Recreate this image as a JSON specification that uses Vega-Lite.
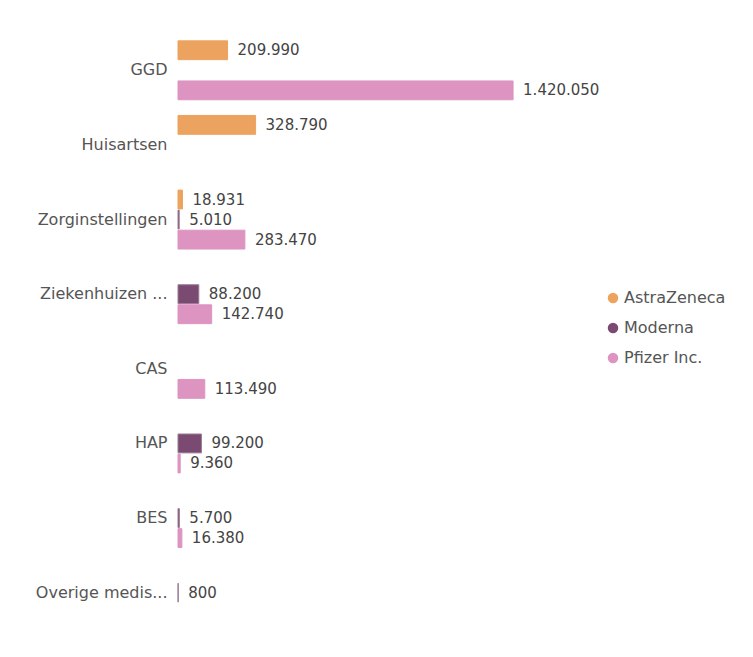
{
  "$schema": "https://vega.github.io/schema/vega-lite/v6.json",
  "width": 420,
  "height": 597,
  "autosize": {"type": "none"},
  "padding": {"left": 178, "top": 33, "right": 155, "bottom": 27},
  "background": "white",
  "config": {
    "font": "DejaVu Sans",
    "view": {"stroke": null},
    "locale": {"number": {"decimal": ",", "thousands": ".", "grouping": [3], "currency": ["€", ""]}}
  },
  "data": {
    "values": [
      {"categorie": "GGD", "vaccin": "AstraZeneca", "aantal": 209990},
      {"categorie": "GGD", "vaccin": "Pfizer Inc.", "aantal": 1420050},
      {"categorie": "Huisartsen", "vaccin": "AstraZeneca", "aantal": 328790},
      {"categorie": "Zorginstellingen", "vaccin": "AstraZeneca", "aantal": 18931},
      {"categorie": "Zorginstellingen", "vaccin": "Moderna", "aantal": 5010},
      {"categorie": "Zorginstellingen", "vaccin": "Pfizer Inc.", "aantal": 283470},
      {"categorie": "Ziekenhuizen ...", "vaccin": "Moderna", "aantal": 88200},
      {"categorie": "Ziekenhuizen ...", "vaccin": "Pfizer Inc.", "aantal": 142740},
      {"categorie": "CAS", "vaccin": "Pfizer Inc.", "aantal": 113490},
      {"categorie": "HAP", "vaccin": "Moderna", "aantal": 99200},
      {"categorie": "HAP", "vaccin": "Pfizer Inc.", "aantal": 9360},
      {"categorie": "BES", "vaccin": "Moderna", "aantal": 5700},
      {"categorie": "BES", "vaccin": "Pfizer Inc.", "aantal": 16380},
      {"categorie": "Overige medis...", "vaccin": "Moderna", "aantal": 800}
    ]
  },
  "encoding": {
    "y": {
      "field": "categorie",
      "type": "nominal",
      "sort": ["GGD", "Huisartsen", "Zorginstellingen", "Ziekenhuizen ...", "CAS", "HAP", "BES", "Overige medis..."],
      "scale": {"paddingInner": 0.21, "paddingOuter": 0.105},
      "axis": {"title": null, "ticks": false, "domain": false, "labelPadding": 11, "labelFontSize": 16, "labelColor": "#555555", "labelLimit": 300}
    },
    "yOffset": {
      "field": "vaccin",
      "type": "nominal",
      "scale": {"domain": ["AstraZeneca", "Moderna", "Pfizer Inc."], "paddingInner": 0.06}
    },
    "x": {
      "field": "aantal",
      "type": "quantitative",
      "scale": {"domain": [0, 1780000], "nice": false},
      "axis": null
    }
  },
  "layer": [
    {
      "mark": {"type": "bar", "strokeWidth": 1},
      "encoding": {
        "color": {
          "field": "vaccin",
          "type": "nominal",
          "scale": {"domain": ["AstraZeneca", "Moderna", "Pfizer Inc."], "range": ["#ECA35F", "#7A4A72", "#DD94C1"]},
          "legend": {
            "title": null,
            "orient": "none",
            "legendX": 427,
            "legendY": 257,
            "symbolType": "circle",
            "symbolSize": 110,
            "symbolStrokeWidth": 0,
            "symbolOpacity": 1,
            "labelFontSize": 16,
            "labelColor": "#555555",
            "labelOffset": 3,
            "rowPadding": 14
          }
        },
        "stroke": {
          "field": "vaccin",
          "type": "nominal",
          "scale": {"domain": ["AstraZeneca", "Moderna", "Pfizer Inc."], "range": ["#ECA35F", "#9A7A92", "#DD94C1"]},
          "legend": null
        }
      }
    },
    {
      "mark": {"type": "text", "align": "left", "baseline": "middle", "dx": 10, "fontSize": 15, "color": "#444444"},
      "encoding": {
        "text": {"field": "aantal", "type": "quantitative", "format": ",d"}
      }
    }
  ]
}
